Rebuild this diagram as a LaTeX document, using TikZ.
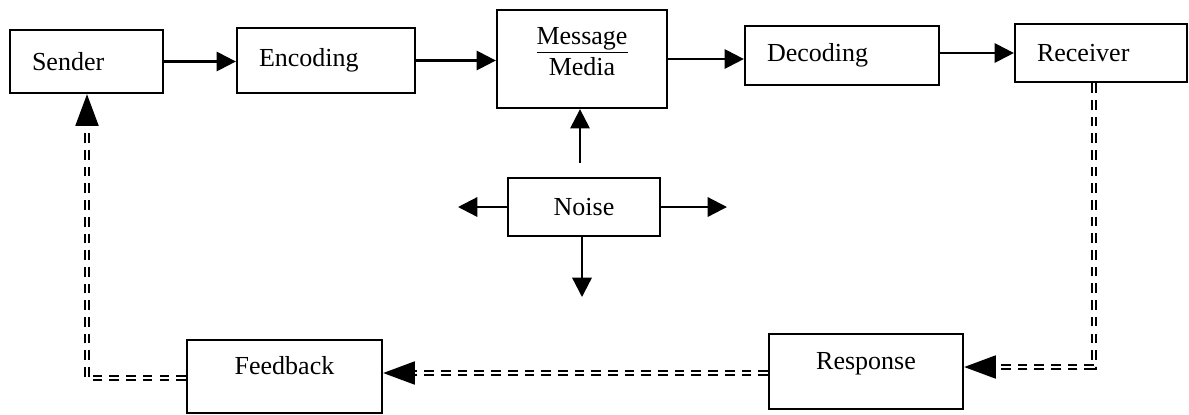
\documentclass[tikz,border=0pt]{standalone}
\usepackage{fontspec}
\setmainfont{Liberation Serif}
\usetikzlibrary{arrows.meta}

\begin{document}
\begin{tikzpicture}[x=0.02cm, y=-0.02cm,
    box/.style={draw, line width=1.3pt, inner sep=0pt, font=\fontsize{14.8pt}{18pt}\selectfont},
    lbox/.style={box, align=left, inner xsep=0.44cm},
    arr/.style={line width=1.3pt, -{Triangle[length=11pt, width=11pt]}},
    fb/.style={double, double distance=1.1pt, line width=1.3pt, dash pattern=on 5.5pt off 4pt, -{Triangle[length=18pt, width=13pt]}}]
    \useasboundingbox (0, 0) rectangle (1189, 414);
    \node [lbox, text width=2.18cm, minimum height=1.26cm] (sender) at (86.5, 61.5) {Sender};
    \node [lbox, text width=2.68cm, minimum height=1.30cm] (encoding) at (326, 60.5) {Encoding};
    \node [box, align=center, minimum width=3.4cm, minimum height=1.96cm, text depth=0.3cm] (message) at (582, 59) {\underline{Message}\\Media};
    \node [lbox, text width=3.0cm, minimum height=1.18cm] (decoding) at (842, 55.5) {Decoding};
    \node [lbox, text width=2.56cm, minimum height=1.16cm] (receiver) at (1101, 53) {Receiver};
    \node [box, minimum width=3.04cm, minimum height=1.16cm] (noise) at (584, 207) {Noise};
    \node [box, anchor=north, minimum width=3.9cm, text height=0.68cm, text depth=0.78cm] (feedback) at (284.5, 339) {Feedback};
    \node [box, anchor=north, minimum width=3.88cm, text height=0.70cm, text depth=0.80cm] (response) at (866, 333) {Response};
    \draw [arr] (sender.east) -- (sender.east -| encoding.west);
    \draw [arr] (encoding.east) -- (encoding.east -| message.west);
    \draw [arr] (message.east) -- (message.east -| decoding.west);
    \draw [arr] (receiver.west -| decoding.east) -- (receiver.west);
    \coordinate (noiseup) at (580, 163);
    \coordinate (noiseleft) at (458, 207);
    \coordinate (noiseright) at (727, 207);
    \coordinate (noisedown) at (582, 297);
    \draw [arr] (noiseup) -- (noiseup |- message.south);
    \draw [arr] (noise.west) -- (noiseleft);
    \draw [arr] (noise.east) -- (noiseright);
    \draw [arr] (noisedown |- noise.south) -- (noisedown);
    \coordinate (rcorner) at (1094, 367);
    \coordinate (fbline) at (575, 373);
    \coordinate (scorner) at (87, 378);
    \draw [fb] (receiver.south -| rcorner) -- (rcorner) -- (rcorner -| response.east);
    \draw [fb] (fbline -| response.west) -- (fbline -| feedback.east);
    \draw [fb] (scorner -| feedback.west) -- (scorner) -- (scorner |- sender.south);
\end{tikzpicture}
\end{document}
